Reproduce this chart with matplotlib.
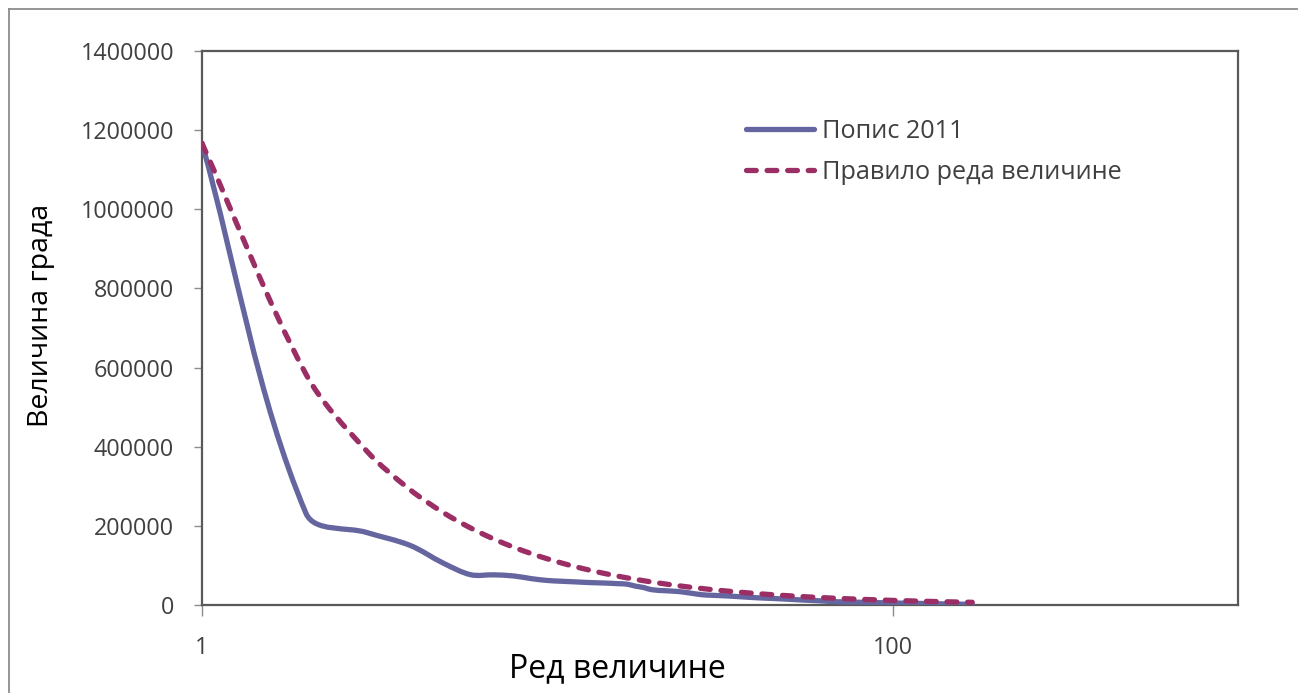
import numpy as np
import matplotlib
matplotlib.use("Agg")
import matplotlib.pyplot as plt
from matplotlib.path import Path
from matplotlib.patches import PathPatch
from matplotlib.lines import Line2D
from matplotlib.ticker import FixedLocator, FixedFormatter, NullLocator

plt.rcParams['font.family'] = ['Open Sans', 'DejaVu Sans']

# ---- data ----
ranks = [1, 2, 3, 4, 5, 6, 7, 8, 9, 10, 11, 12, 13, 14, 15, 16, 17, 18, 19, 20,
         22, 24, 26, 28, 30, 33, 36, 40, 45, 50, 55, 60, 70, 80, 90, 100, 110,
         120, 135, 150, 170]
census_2011 = [1166763, 231798, 183164, 150835, 105681, 76511, 76203, 73331,
               66527, 62000, 60000, 58500, 57000, 56000, 55138, 53919, 52646,
               47623, 44183, 38785, 36000, 34000, 30000, 26000, 24500, 23000,
               21000, 18500, 16500, 14500, 12500, 11000, 8000, 7000, 6000, 5000,
               4500, 4000, 3000, 2500, 1500]
rank_size_rule = [1166763, 583382, 388921, 291691, 233353, 194461, 166680,
                  145845, 129640, 116676, 106069, 97230, 89751, 83340, 77784,
                  72923, 68633, 64820, 61409, 58338, 53035, 48615, 44876, 41670,
                  38892, 35356, 32410, 29169, 25928, 23335, 21214, 19446, 16668,
                  14585, 12964, 11668, 10607, 9723, 8643, 7778, 6863]
series_labels = ['Попис 2011', 'Правило реда величине']
x_ticks = [1, 100]
x_tick_labels = ['1', '100']
y_ticks = [0, 200000, 400000, 600000, 800000, 1000000, 1200000, 1400000]
x_label = 'Ред величине'
y_label = 'Величина града'

col_census = '#65659F'
col_rule = '#9B2F65'

W, H = 1305, 693
AX_L, AX_R, AX_T, AX_B = 202, 1238, 51, 605
X_MIN, X_MAX, Y_MAX = 1, 1000, 1400000
SX = (AX_R - AX_L) / np.log10(X_MAX / X_MIN)   # px per decade
SY = (AX_B - AX_T) / Y_MAX                       # px per unit


def smooth_path(xs, ys, f=0.33):
    """Excel-like smoothed line: cubic Bezier through the points; tangent
    direction from the neighbours, handle length proportional to the
    segment length (computed in screen-like space)."""
    P = np.column_stack([np.log10(np.asarray(xs, float)) * SX,
                         np.asarray(ys, float) * SY])
    n = len(P)
    verts = [P[0]]
    codes = [Path.MOVETO]

    def unit(v):
        d = np.hypot(*v)
        return v / d if d > 0 else v

    for i in range(n - 1):
        a, b = P[i], P[i + 1]
        seg = np.hypot(*(b - a))
        d1 = unit(b - P[i - 1]) if i > 0 else unit(b - a)
        d2 = unit(P[i + 2] - a) if i + 2 < n else unit(b - a)
        c1 = a + f * seg * d1
        c2 = b - f * seg * d2
        verts += [c1, c2, b]
        codes += [Path.CURVE4] * 3
    V = np.array(verts)
    V[:, 0] = 10 ** (V[:, 0] / SX)
    V[:, 1] = V[:, 1] / SY
    return Path(V, codes)


fig = plt.figure(figsize=(W / 100, H / 100), dpi=100)
ax = fig.add_axes([AX_L / W, 1 - AX_B / H, (AX_R - AX_L) / W, (AX_B - AX_T) / H])

ax.set_xscale('log')
ax.set_xlim(X_MIN, X_MAX)
ax.set_ylim(0, Y_MAX)

dash = (0, (1.85, 2.05))
p1 = PathPatch(smooth_path(ranks, census_2011), fill=False, edgecolor=col_census,
               linewidth=3.8, capstyle='round', joinstyle='round', zorder=3)
p2 = PathPatch(smooth_path(ranks, rank_size_rule), fill=False, edgecolor=col_rule,
               linewidth=3.8, linestyle=dash, capstyle='round',
               joinstyle='round', zorder=4)
ax.add_patch(p1)
ax.add_patch(p2)

ax.xaxis.set_major_locator(FixedLocator(x_ticks))
ax.xaxis.set_major_formatter(FixedFormatter(x_tick_labels))
ax.xaxis.set_minor_locator(NullLocator())
ax.set_yticks(y_ticks)
ax.set_yticklabels([str(v) for v in y_ticks])

for s in ax.spines.values():
    s.set_color('#595959')
    s.set_linewidth(1.6)

ax.tick_params(axis='y', direction='out', length=6, width=1, color='#8C8C8C',
               labelsize=16.8, labelcolor='#404040', pad=14)
ax.tick_params(axis='x', direction='out', length=8, width=1, color='#8C8C8C',
               labelsize=16.8, labelcolor='#404040', pad=14)

ax.set_xlabel(x_label, fontsize=23, color='#000000')
ax.xaxis.label.set_va('center')
ax.xaxis.set_label_coords((617 - AX_L) / 1036, (AX_B - 669) / 554)
ax.set_ylabel(y_label, fontsize=20.5, color='#000000')
ax.yaxis.label.set_va('center')
ax.yaxis.set_label_coords((41 - AX_L) / 1036, (AX_B - 315) / 554)

handles = [Line2D([], [], color=col_census, lw=3.8, solid_capstyle='round'),
           Line2D([], [], color=col_rule, lw=3.8, linestyle=dash,
                  dash_capstyle='round')]
leg = ax.legend(handles, series_labels, loc='upper left',
                bbox_to_anchor=((746 - AX_L) / 1036, (AX_B - 119) / 554),
                frameon=False, fontsize=18.2, handlelength=2.7, handletextpad=0.3,
                labelspacing=0.62, borderaxespad=0, borderpad=0)
for t in leg.get_texts():
    t.set_color('#404040')

# outer chart border (left and top visible)
fig.add_artist(Line2D([9 / W, 9 / W], [0, 1 - 9 / H], transform=fig.transFigure,
                      color='#8C8C8C', lw=1.3))
fig.add_artist(Line2D([9 / W, 1297 / W], [1 - 9 / H, 1 - 9 / H], transform=fig.transFigure,
                      color='#8C8C8C', lw=1.3))

fig.savefig('out.png', dpi=100, facecolor='white')
